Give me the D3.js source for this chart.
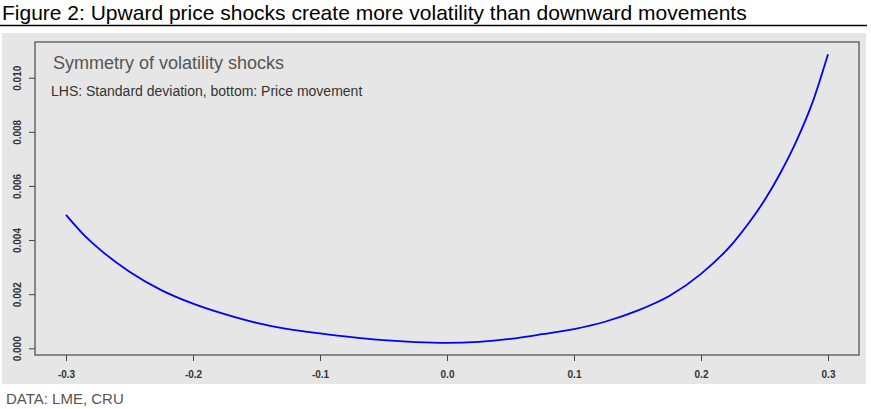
<html>
    <head>
        <meta charset="utf-8">
        <title>Symmetry of volatility shocks</title>
        <style>
            body { margin: 0; background: #fff; }
            text { font-family: Arial, "Liberation Sans", sans-serif; }
        </style>
    </head>
    <body>
        <svg id="container" width="871" height="409"></svg>
    </body>
    <script src="https://d3js.org/d3.v7.min.js"></script>
    <script>
        // price movement (bottom axis) and standard deviation (LHS)
        let priceMove = [-0.300, -0.2875, -0.275, -0.250, -0.225, -0.200, -0.175, -0.150, -0.125, -0.100, -0.075, -0.050, -0.025,
                          0.000, 0.025, 0.050, 0.075, 0.100, 0.125, 0.150, 0.175, 0.200, 0.225, 0.2375, 0.250, 0.2625, 0.275, 0.2875, 0.300]
        let stdDev = [0.00493, 0.00427, 0.00372, 0.00283, 0.00215, 0.00165, 0.00126, 0.00094, 0.00071, 0.00055, 0.00041, 0.00030, 0.00023,
                      0.00020, 0.00024, 0.00035, 0.00052, 0.00071, 0.00099, 0.00139, 0.00193, 0.00275, 0.00388, 0.00462, 0.00547, 0.00648, 0.00765, 0.00905, 0.01087]
        let xTicks = [-0.3, -0.2, -0.1, 0.0, 0.1, 0.2, 0.3]
        let yTicks = [0.000, 0.002, 0.004, 0.006, 0.008, 0.010]

        let title = "Figure 2: Upward price shocks create more volatility than downward movements"
        let subtitle = "Symmetry of volatility shocks"
        let note = "LHS: Standard deviation, bottom: Price movement"
        let source = "DATA: LME, CRU"

        let svg = d3.select("#container")

        // header
        svg.append("text").attr("x", 2).attr("y", 20)
           .attr("font-size", 21).attr("fill", "#000").text(title)
        svg.append("line").attr("x1", 0).attr("x2", 867).attr("y1", 25.5).attr("y2", 25.5)
           .attr("stroke", "#000").attr("stroke-width", 1.3)

        // gray panel
        svg.append("rect").attr("x", 2).attr("y", 33).attr("width", 864).attr("height", 351)
           .attr("fill", "#e6e6e6")

        let plotL = 35, plotR = 859, plotT = 42, plotB = 355

        let x = d3.scaleLinear().domain([-0.3244, 0.3244]).range([plotL, plotR])
        let y = d3.scaleLinear().domain([-0.000248, 0.01132]).range([plotB, plotT])

        let fmtX = d => d3.format(".1f")(d).replace("\u2212", "-")

        // plot frame
        svg.append("rect").attr("x", plotL).attr("y", plotT)
           .attr("width", plotR - plotL).attr("height", plotB - plotT)
           .attr("fill", "none").attr("stroke", "#555").attr("stroke-width", 1.3)

        // bottom axis
        let xAxis = svg.append("g").attr("transform", `translate(0,${plotB})`)
            .call(d3.axisBottom(x).tickValues(xTicks).tickSize(6).tickSizeOuter(0).tickPadding(10)
                     .tickFormat(fmtX))
        xAxis.select(".domain").remove()
        xAxis.selectAll("line").attr("stroke", "#444")
        xAxis.selectAll("text").attr("font-size", 10).attr("font-weight", "bold")
             .attr("fill", "#333").attr("font-family", "Arial, 'Liberation Sans', sans-serif")

        // left axis
        let yAxis = svg.append("g").attr("transform", `translate(${plotL},0)`)
            .call(d3.axisLeft(y).tickValues(yTicks).tickSize(6).tickSizeOuter(0)
                     .tickFormat(d3.format(".3f")))
        yAxis.select(".domain").remove()
        yAxis.selectAll("line").attr("stroke", "#444")
        yAxis.selectAll("text").remove()
        yAxis.selectAll(".tick").append("text")
             .attr("transform", "translate(-14,0) rotate(-90)")
             .attr("text-anchor", "middle")
             .attr("font-size", 10).attr("font-weight", "bold").attr("fill", "#333")
             .text(d => d3.format(".3f")(d))

        // in-plot labels
        svg.append("text").attr("x", 53).attr("y", 69)
           .attr("font-size", 18).attr("fill", "#555").text(subtitle)
        svg.append("text").attr("x", 51).attr("y", 96)
           .attr("font-size", 14).attr("fill", "#333").text(note)

        // curve
        let points = priceMove.map((p, i) => [p, stdDev[i]])
        let line = d3.line()
                     .x(d => x(d[0]))
                     .y(d => y(d[1]))
                     .curve(d3.curveMonotoneX)
        svg.append("path").datum(points)
           .attr("d", line)
           .attr("fill", "none").attr("stroke", "#0000ff").attr("stroke-width", 1.8)

        // source
        svg.append("text").attr("x", 6).attr("y", 404)
           .attr("font-size", 15).attr("fill", "#555").text(source)
    </script>
</html>
